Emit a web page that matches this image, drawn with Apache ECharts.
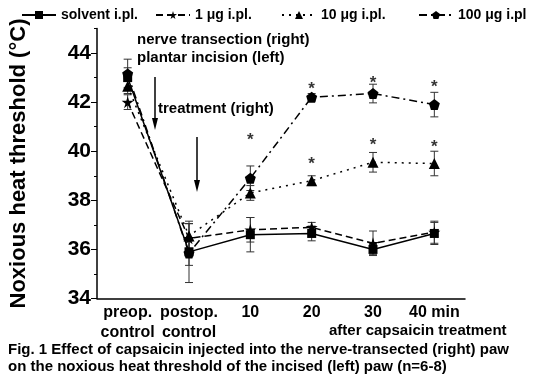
<!DOCTYPE html>
<html>
<head>
<meta charset="utf-8">
<script src="https://cdn.jsdelivr.net/npm/echarts@6/dist/echarts.min.js"></script>
<style>
  html, body { margin: 0; padding: 0; background: #fff; }
  #chart { width: 540px; height: 377px; }
</style>
</head>
<body>
<div id="chart"></div>
<script>
// x categories
const categories = ['preop.\ncontrol', 'postop.\ncontrol', '10', '20', '30', '40 min']

// means and error (SEM) per group
const solvent = [43.0, 35.9, 36.6, 36.65, 36.0, 36.65]
const solventErr = [0.4, 1.25, 0.7, 0.3, 0.2, 0.45]
const dose1 = [42.0, 36.45, 36.8, 36.9, 36.25, 36.7]
const dose1Err = [0.3, 0.6, 0.5, 0.2, 0.5, 0.45]
const dose10 = [42.65, 36.55, 38.3, 38.8, 39.55, 39.5]
const dose10Err = [0.3, 0.5, 0.3, 0.2, 0.4, 0.5]
const dose100 = [43.15, 35.85, 38.9, 42.2, 42.35, 41.9]
const dose100Err = [0.6, 0.5, 0.5, 0.15, 0.38, 0.5]

// significance asterisks (category index, y value)
const sigCat = [2, 3, 3, 4, 4, 5, 5]
const sigY = [40.63, 42.71, 39.69, 42.96, 40.43, 42.8, 40.35]

const yTicks = [34, 36, 38, 40, 42, 44]
const seriesNames = ['solvent i.pl.', '1 μg i.pl.', '10 μg i.pl.', '100 μg i.pl']
const legendLeft = [16, 150, 276, 413]

const FONT = '"Liberation Sans", Arial, sans-serif'
const STAR = 'path://M50,0 L61,35 L98,35 L68,57 L79,91 L50,70 L21,91 L32,57 L2,35 L39,35 Z'
const PENTA = 'path://M50,0 L100,38 L81,100 L19,100 L0,38 Z'

const chart = echarts.init(document.getElementById('chart'))

const errSeries = (name, vals, errs) => ({
  type: 'custom',
  name: name + ' err',
  silent: true,
  z: 1,
  data: vals.map((v, i) => [i, v - errs[i], v + errs[i]]),
  renderItem: (params, api) => {
    const lo = api.coord([api.value(0), api.value(1)])
    const hi = api.coord([api.value(0), api.value(2)])
    const w = 4
    const st = { stroke: '#333', lineWidth: 1 }
    return {
      type: 'group',
      children: [
        { type: 'line', shape: { x1: lo[0], y1: lo[1], x2: hi[0], y2: hi[1] }, style: st },
        { type: 'line', shape: { x1: lo[0] - w, y1: lo[1], x2: lo[0] + w, y2: lo[1] }, style: st },
        { type: 'line', shape: { x1: hi[0] - w, y1: hi[1], x2: hi[0] + w, y2: hi[1] }, style: st }
      ]
    }
  }
})

const lineSeries = (name, vals, symbol, size, dash) => ({
  type: 'line',
  name,
  data: vals,
  symbol,
  symbolSize: size,
  z: 3,
  itemStyle: { color: '#000' },
  lineStyle: { color: '#000', width: 1.5, type: dash },
  animation: false
})

const option = {
  animation: false,
  textStyle: { fontFamily: FONT, color: '#000' },
  legend: seriesNames.map((n, i) => ({
    top: 3,
    left: legendLeft[i],
    itemWidth: 34,
    itemHeight: 10,
    data: [n],
    textStyle: { fontFamily: FONT, fontSize: 14, fontWeight: 'bold', color: '#000' }
  })),
  grid: { left: 96, right: 75, top: 28.5, bottom: 78.5 },
  xAxis: {
    type: 'category',
    data: categories,
    boundaryGap: true,
    axisLine: { lineStyle: { color: '#000', width: 1.5 } },
    axisTick: { alignWithLabel: true, inside: true, length: 5, lineStyle: { color: '#000' } },
    axisLabel: {
      color: '#000', fontSize: 16, fontWeight: 'bold', fontFamily: FONT,
      lineHeight: 20, margin: 4, interval: 0
    }
  },
  yAxis: [
    {
      type: 'value',
      min: 34, max: 45, interval: 2,
      axisLine: { show: true, lineStyle: { color: '#000', width: 1.5 } },
      axisTick: { show: true, length: 6, customValues: yTicks, lineStyle: { color: '#000' } },
      axisLabel: {
        color: '#000', fontSize: 21, fontWeight: 'bold', fontFamily: FONT,
        margin: 6, customValues: yTicks
      },
      splitLine: { show: false },
      name: 'Noxious heat threshold (°C)',
      nameLocation: 'middle',
      nameGap: 67,
      nameTextStyle: { fontSize: 22, fontWeight: 'bold', color: '#000', fontFamily: FONT }
    },
    {
      type: 'value',
      position: 'left',
      min: 34, max: 45, interval: 1,
      axisLine: { show: false },
      axisTick: { show: true, length: 3, lineStyle: { color: '#000' } },
      axisLabel: { show: false },
      splitLine: { show: false }
    }
  ],
  series: [
    errSeries('solvent', solvent, solventErr),
    errSeries('1', dose1, dose1Err),
    errSeries('10', dose10, dose10Err),
    errSeries('100', dose100, dose100Err),
    lineSeries(seriesNames[0], solvent, 'rect', 9, 'solid'),
    lineSeries(seriesNames[1], dose1, STAR, 12, [7, 4]),
    lineSeries(seriesNames[2], dose10, 'triangle', 11, [2, 5]),
    lineSeries(seriesNames[3], dose100, PENTA, 11, [8, 4, 2, 4]),
    {
      type: 'scatter',
      name: 'sig',
      symbolSize: 1,
      itemStyle: { color: 'rgba(0,0,0,0)' },
      data: sigCat.map((c, i) => [c, sigY[i]]),
      label: {
        show: true, position: 'inside', formatter: '*', offset: [0, 5],
        fontSize: 17, fontWeight: 'bold', color: '#000', fontFamily: FONT
      },
      z: 4
    }
  ],
  graphic: [
    { type: 'text', left: 137, top: 32, style: { text: 'nerve transection (right)', font: 'bold 15px ' + FONT, fill: '#000' } },
    { type: 'text', left: 137, top: 50, style: { text: 'plantar incision (left)', font: 'bold 15px ' + FONT, fill: '#000' } },
    { type: 'text', left: 158, top: 101, style: { text: 'treatment (right)', font: 'bold 15px ' + FONT, fill: '#000' } },
    { type: 'line', shape: { x1: 155, y1: 77, x2: 155, y2: 120 }, style: { stroke: '#000', lineWidth: 1.5 } },
    { type: 'polygon', shape: { points: [[152, 118], [158, 118], [155, 130]] }, style: { fill: '#000' } },
    { type: 'line', shape: { x1: 197, y1: 137, x2: 197, y2: 182 }, style: { stroke: '#000', lineWidth: 1.5 } },
    { type: 'polygon', shape: { points: [[194, 180], [200, 180], [197, 192]] }, style: { fill: '#000' } },
    { type: 'text', left: 329, top: 323, style: { text: 'after capsaicin treatment', font: 'bold 15px ' + FONT, fill: '#000' } },
    { type: 'text', left: 8, top: 342, style: { text: 'Fig. 1 Effect of capsaicin injected into the nerve-transected (right) paw', font: 'bold 15px ' + FONT, fill: '#000' } },
    { type: 'text', left: 8, top: 359, style: { text: 'on the noxious heat threshold of the incised (left) paw (n=6-8)', font: 'bold 15px ' + FONT, fill: '#000' } }
  ]
}

chart.setOption(option)
</script>
</body>
</html>
